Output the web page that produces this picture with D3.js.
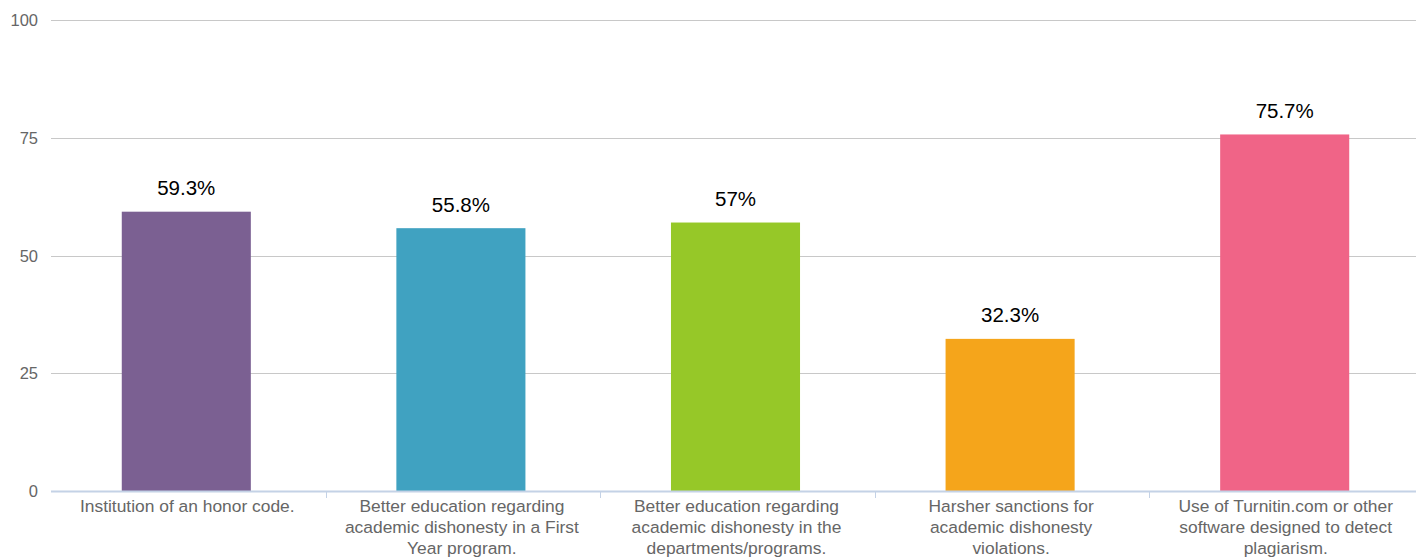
<!DOCTYPE html>
<html>
<head>
<meta charset="utf-8">
<script src="https://cdn.jsdelivr.net/npm/d3@7"></script>
<style>
  html, body { margin: 0; padding: 0; background: #ffffff; }
  svg { display: block; font-family: "Liberation Sans", Arial, Helvetica, sans-serif; }
</style>
</head>
<body>
<svg id="chart" width="1416" height="559"></svg>
<script>
// Survey responses: share of respondents favouring each measure (%)
const categoryLines = [
  ["Institution of an honor code."],
  ["Better education regarding", "academic dishonesty in a First", "Year program."],
  ["Better education regarding", "academic dishonesty in the", "departments/programs."],
  ["Harsher sanctions for", "academic dishonesty", "violations."],
  ["Use of Turnitin.com or other", "software designed to detect", "plagiarism."]
];
const values = [59.3, 55.8, 57, 32.3, 75.7];
const valueLabels = ["59.3%", "55.8%", "57%", "32.3%", "75.7%"];
const barColors = ["#7b6092", "#40a2c1", "#96c828", "#f5a51b", "#f06487"];
const yTicks = [0, 25, 50, 75, 100];

const W = 1416, H = 559;
const plot = { left: 50, right: 1423, top: 20, bottom: 491 };

const svg = d3.select("#chart");

const x = d3.scaleBand()
  .domain(d3.range(values.length))
  .range([plot.left, plot.right])
  .paddingInner(0)
  .paddingOuter(0);

const y = d3.scaleLinear()
  .domain([0, 100])
  .range([plot.bottom, plot.top]);

// Horizontal gridlines
svg.append("g")
  .selectAll("line")
  .data(yTicks.filter(t => t > 0))
  .join("line")
  .attr("x1", plot.left + 1)
  .attr("x2", W)
  .attr("y1", d => Math.round(y(d)) + 0.5)
  .attr("y2", d => Math.round(y(d)) + 0.5)
  .attr("stroke", "#c8c8c8")
  .attr("stroke-width", 1);

// Y axis labels
svg.append("g")
  .selectAll("text")
  .data(yTicks)
  .join("text")
  .attr("x", 38)
  .attr("y", d => y(d) + 6)
  .attr("text-anchor", "end")
  .attr("font-size", 16.5)
  .attr("fill", "#666666")
  .text(d => d);

// Bars
const bw = x.bandwidth() * 0.47;
svg.append("g")
  .selectAll("rect")
  .data(values)
  .join("rect")
  .attr("x", (d, i) => x(i) + (x.bandwidth() - bw) / 2 - 1)
  .attr("width", bw)
  .attr("y", d => y(d))
  .attr("height", d => y(0) - y(d))
  .attr("fill", (d, i) => barColors[i]);

// Value labels above bars
svg.append("g")
  .selectAll("text")
  .data(values)
  .join("text")
  .attr("x", (d, i) => x(i) + x.bandwidth() / 2 - 1)
  .attr("y", d => y(d) - 16.5)
  .attr("text-anchor", "middle")
  .attr("font-size", 20.5)
  .attr("fill", "#000000")
  .text((d, i) => valueLabels[i]);

// X axis line and ticks
const xAxis = svg.append("g");
xAxis.append("line")
  .attr("x1", plot.left + 1)
  .attr("x2", W)
  .attr("y1", plot.bottom + 0.5)
  .attr("y2", plot.bottom + 0.5)
  .attr("stroke", "#c4d2e6")
  .attr("stroke-width", 2);

xAxis.selectAll("line.tick")
  .data(d3.range(1, values.length))
  .join("line")
  .attr("class", "tick")
  .attr("x1", i => Math.round(x(i)) + 1.5)
  .attr("x2", i => Math.round(x(i)) + 1.5)
  .attr("y1", plot.bottom)
  .attr("y2", plot.bottom + 7)
  .attr("stroke", "#c4d2e6")
  .attr("stroke-width", 1);

// Category labels (wrapped)
const cat = svg.append("g")
  .selectAll("text")
  .data(categoryLines)
  .join("text")
  .attr("text-anchor", "middle")
  .attr("font-size", 17.4)
  .attr("fill", "#666666");

cat.each(function(lines, i) {
  const t = d3.select(this);
  lines.forEach((ln, k) => {
    t.append("tspan")
      .attr("x", x(i) + x.bandwidth() / 2)
      .attr("y", plot.bottom + 21 + k * 21)
      .text(ln);
  });
});
</script>
</body>
</html>
